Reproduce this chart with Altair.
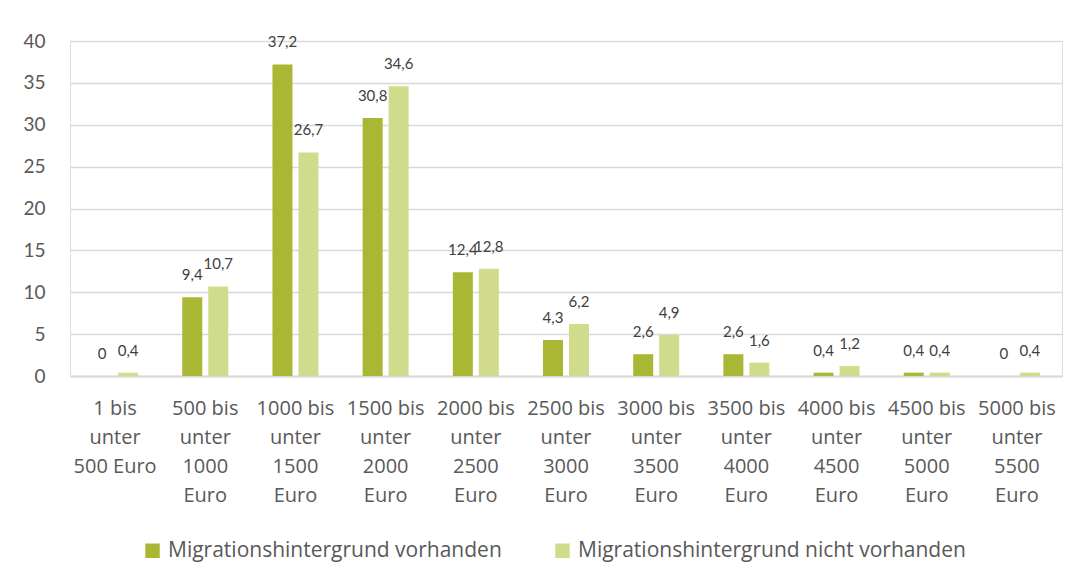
import altair as alt
import pandas as pd

categories = [
    "1 bis\nunter\n500 Euro",
    "500 bis\nunter\n1000\nEuro",
    "1000 bis\nunter\n1500\nEuro",
    "1500 bis\nunter\n2000\nEuro",
    "2000 bis\nunter\n2500\nEuro",
    "2500 bis\nunter\n3000\nEuro",
    "3000 bis\nunter\n3500\nEuro",
    "3500 bis\nunter\n4000\nEuro",
    "4000 bis\nunter\n4500\nEuro",
    "4500 bis\nunter\n5000\nEuro",
    "5000 bis\nunter\n5500\nEuro",
]
series_names = ["Migrationshintergrund vorhanden", "Migrationshintergrund nicht vorhanden"]
values_mit = [0, 9.4, 37.2, 30.8, 12.4, 4.3, 2.6, 2.6, 0.4, 0.4, 0]
values_ohne = [0.4, 10.7, 26.7, 34.6, 12.8, 6.2, 4.9, 1.6, 1.2, 0.4, 0.4]
colors = ["#AAB734", "#D0DC8C"]

rows = []
for i, c in enumerate(categories):
    rows.append({"cat": c, "series": series_names[0], "value": values_mit[i]})
    rows.append({"cat": c, "series": series_names[1], "value": values_ohne[i]})
df = pd.DataFrame(rows)
df["label"] = df["value"].map(lambda v: (("%g" % v).replace(".", ",")))

FONT = "Lato"
WFONT = "Open Sans"

x = alt.X("cat:N", sort=categories, title=None,
          scale=alt.Scale(paddingInner=0.49, paddingOuter=0.245),
          axis=alt.Axis(labelExpr="split(datum.label, '\\n')", labelAngle=0,
                        labelFontSize=20, labelColor="#595959", labelFont=WFONT,
                        labelLineHeight=29, labelPadding=32, labelBaseline="middle",
                        ticks=False, tickSize=0, domainColor="#D9D9D9", domainWidth=2,
                        labelLimit=200))
xo = alt.XOffset("series:N", sort=series_names, scale=alt.Scale(paddingInner=0.23))
y = alt.Y("value:Q", title=None,
          scale=alt.Scale(domain=[0, 40], nice=False),
          axis=alt.Axis(values=[0, 5, 10, 15, 20, 25, 30, 35, 40], ticks=False, tickSize=0,
                        domain=False, gridColor="#D9D9D9", gridWidth=1.5,
                        labelFontSize=19, labelColor="#595959", labelFont=FONT,
                        labelPadding=25))
color = alt.Color("series:N", sort=series_names,
                  scale=alt.Scale(domain=series_names, range=colors),
                  legend=alt.Legend(title=None, orient="none", direction="horizontal",
                                    legendX=72, legendY=499, symbolType="square",
                                    symbolSize=210, symbolStrokeWidth=0,
                                    labelFontSize=21, labelFont=WFONT, labelColor="#595959",
                                    columnPadding=50, labelOffset=5, labelLimit=500))

base = alt.Chart(df)
bars = base.mark_bar().encode(x=x, xOffset=xo, y=y, color=color)
text = base.mark_text(dy=-22, fontSize=15, font=FONT, color="#404040", baseline="middle").encode(
    x=x, xOffset=xo, y=y, text="label:N")

chart = (bars + text).properties(
    width=992, height=335,
    autosize=alt.AutoSizeParams(type="none"),
    padding={"left": 62, "top": 33, "right": 4, "bottom": 190},
).configure_view(stroke=None).configure(background="white")

chart.save("out.html", embed_options={"renderer": "svg", "actions": False})
